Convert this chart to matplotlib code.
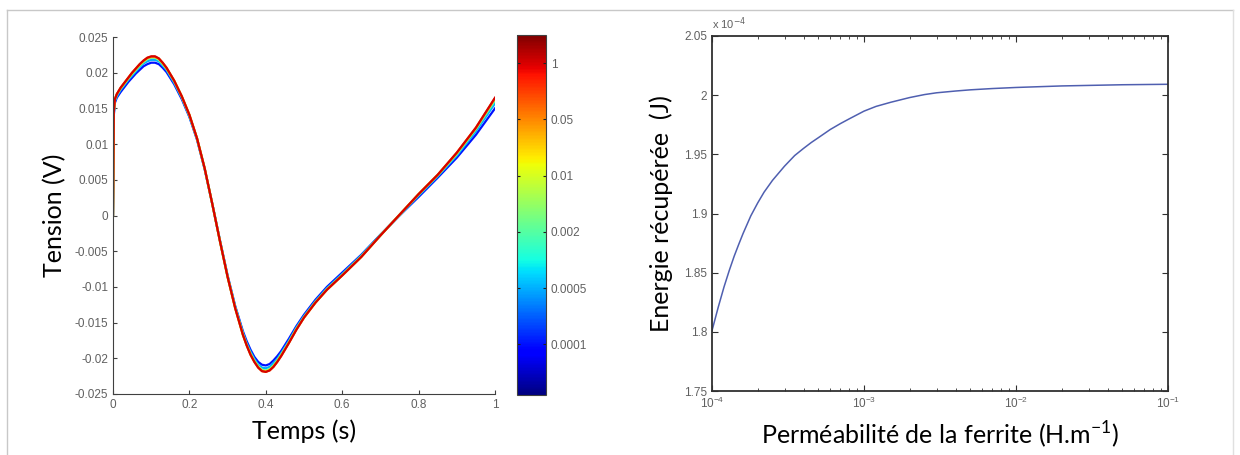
import numpy as np
import matplotlib
matplotlib.use('Agg')
import matplotlib.pyplot as plt
from matplotlib.colors import Normalize
from matplotlib.cm import ScalarMappable
from matplotlib.ticker import FixedLocator, FuncFormatter, LogLocator, NullFormatter
from matplotlib.lines import Line2D

# ---- left plot : tension vs time, one curve per ferrite permeability
t = [0, 0.002, 0.005, 0.01, 0.02, 0.03, 0.04, 0.05, 0.06, 0.07, 0.08, 0.09, 0.10,
     0.11, 0.12, 0.13, 0.14, 0.16, 0.18, 0.20, 0.22, 0.24, 0.26, 0.28, 0.30, 0.32,
     0.34, 0.35, 0.36, 0.37, 0.38, 0.39, 0.40, 0.41, 0.42, 0.43, 0.44, 0.46, 0.48,
     0.50, 0.53, 0.56, 0.60, 0.65, 0.70, 0.75, 0.80, 0.85, 0.90, 0.95, 1.00]

v_1e4 = [0, .0140, .0158, .0165, .0173, .0180, .0187, .0193, .0199, .0204, .0209, .0212, .0214,
         .0214, .0212, .0207, .0201, .0184, .0163, .0138, .0106, .0065, .0016, -.0035, -.0084, -.0127,
         -.0162, -.0176, -.0188, -.0198, -.0205, -.0209, -.0210, -.0208, -.0203, -.0197, -.0190, -.0173, -.0155,
         -.0139, -.0118, -.0100, -.0080, -.0055, -.0027, .0000, .0026, .0053, .0081, .0113, .0150]
v_5e4 = [0, .0142, .0160, .0167, .0176, .0183, .0190, .0196, .0202, .0208, .0213, .0216, .0218,
         .0218, .0216, .0210, .0204, .0186, .0165, .0139, .0107, .0065, .0016, -.0035, -.0085, -.0128,
         -.0164, -.0179, -.0191, -.0201, -.0209, -.0213, -.0214, -.0212, -.0207, -.0201, -.0193, -.0176, -.0157,
         -.0141, -.0120, -.0102, -.0082, -.0056, -.0027, .0000, .0028, .0055, .0084, .0118, .0157]
v_2e3 = [0, .0144, .0162, .0169, .0178, .0185, .0192, .0198, .0204, .0210, .0215, .0219, .0221,
         .0221, .0218, .0212, .0206, .0188, .0166, .0140, .0108, .0066, .0016, -.0036, -.0086, -.0129,
         -.0166, -.0181, -.0193, -.0203, -.0211, -.0216, -.0217, -.0215, -.0210, -.0203, -.0195, -.0178, -.0159,
         -.0142, -.0121, -.0103, -.0083, -.0057, -.0028, .0001, .0029, .0056, .0086, .0121, .0161]
v_1e2 = [0, .0145, .0163, .0170, .0178, .0185, .0192, .0199, .0205, .0211, .0216, .0220, .0222,
         .0222, .0219, .0213, .0206, .0189, .0167, .0141, .0108, .0066, .0016, -.0036, -.0086, -.0130,
         -.0167, -.0182, -.0194, -.0204, -.0212, -.0217, -.0218, -.0216, -.0211, -.0204, -.0196, -.0178, -.0159,
         -.0143, -.0122, -.0104, -.0084, -.0058, -.0028, .0001, .0030, .0057, .0087, .0122, .0164]
v_5e2 = [0, .0145, .0163, .0170, .0179, .0186, .0193, .0200, .0206, .0212, .0217, .0221, .0222,
         .0222, .0220, .0214, .0207, .0189, .0167, .0141, .0108, .0066, .0016, -.0036, -.0086, -.0130,
         -.0167, -.0182, -.0195, -.0205, -.0213, -.0218, -.0219, -.0217, -.0212, -.0205, -.0197, -.0179, -.0160,
         -.0143, -.0122, -.0104, -.0084, -.0058, -.0028, .0001, .0030, .0057, .0088, .0123, .0164]
v_1 = [0, .0145, .0163, .0170, .0179, .0186, .0193, .0200, .0206, .0212, .0217, .0221, .0223,
       .0223, .0220, .0214, .0207, .0189, .0167, .0141, .0108, .0066, .0016, -.0036, -.0086, -.0130,
       -.0167, -.0182, -.0195, -.0205, -.0213, -.0218, -.0219, -.0217, -.0212, -.0205, -.0197, -.0179, -.0160,
       -.0143, -.0122, -.0104, -.0084, -.0058, -.0028, .0001, .0030, .0057, .0088, .0123, .0165]

curves = [v_1e4, v_5e4, v_2e3, v_1e2, v_5e2, v_1]
cbar_labels = ['0.0001', '0.0005', '0.002', '0.01', '0.05', '1']

# ---- right plot : recovered energy vs permeability
mu = [1e-4, 1.1e-4, 1.2e-4, 1.3e-4, 1.4e-4, 1.5e-4, 1.6e-4, 1.8e-4, 2e-4, 2.2e-4, 2.5e-4,
      3e-4, 3.5e-4, 4e-4, 4.5e-4, 5e-4, 6e-4, 7e-4, 8e-4, 1e-3, 1.2e-3, 1.5e-3, 2e-3,
      2.5e-3, 3e-3, 4e-3, 5e-3, 7e-3, 1e-2, 2e-2, 5e-2, 1e-1]
energy = [1.801e-4, 1.821e-4, 1.838e-4, 1.852e-4, 1.864e-4, 1.874e-4, 1.883e-4, 1.898e-4,
          1.909e-4, 1.918e-4, 1.928e-4, 1.940e-4, 1.949e-4, 1.955e-4, 1.960e-4, 1.964e-4,
          1.971e-4, 1.976e-4, 1.980e-4, 1.9865e-4, 1.9905e-4, 1.994e-4, 1.998e-4, 2.0005e-4,
          2.002e-4, 2.0035e-4, 2.0045e-4, 2.0056e-4, 2.0065e-4, 2.0078e-4, 2.0088e-4, 2.0092e-4]

tick_col = '#606060'
label_font = ['Lato', 'DejaVu Sans']
plt.rcParams['font.family'] = ['Liberation Sans', 'DejaVu Sans']

fig = plt.figure(figsize=(12.4, 4.55), dpi=100)

# light frame of the screenshot
fig.add_artist(Line2D([7/1240, 1233/1240], [1 - 10/455, 1 - 10/455], color='#c8c8c8', lw=1))
fig.add_artist(Line2D([7/1240, 7/1240], [0, 1 - 10/455], color='#c8c8c8', lw=1))
fig.add_artist(Line2D([1233/1240, 1233/1240], [0, 1 - 10/455], color='#e0e0e0', lw=1))

ax1 = fig.add_axes([113/1240, 61/455, 382/1240, 357/455])
cax = fig.add_axes([517/1240, 60/455, 29/1240, 360/455])
ax2 = fig.add_axes([712/1240, 64/455, 456/1240, 355/455])

norm = Normalize(vmin=0.1, vmax=6.5)
cmap = plt.get_cmap('jet')

for i, v in enumerate(curves):
    ax1.plot(t, v, '-', color=cmap(norm(i + 1)), lw=1.6, solid_joinstyle='round')

ax1.set_xlim(0, 1)
ax1.set_ylim(-0.025, 0.025)
ax1.set_xticks(np.arange(0, 1.01, 0.2))
ax1.set_yticks(np.arange(-0.025, 0.0251, 0.005))
ax1.xaxis.set_major_formatter(FuncFormatter(lambda x, p: '%g' % round(x, 3)))
ax1.yaxis.set_major_formatter(FuncFormatter(lambda x, p: '%g' % round(x, 4)))
ax1.spines['top'].set_visible(False)
ax1.spines['right'].set_visible(False)
for s in ['left', 'bottom']:
    ax1.spines[s].set_color('#404040')
ax1.tick_params(direction='in', length=3, labelsize=8.5, labelcolor=tick_col, color='#404040')
ax1.set_xlabel('Temps (s)', family=label_font, fontsize=18, labelpad=6)
ax1.set_ylabel('Tension (V)', family=label_font, fontsize=18, labelpad=6)

cb = fig.colorbar(ScalarMappable(norm=norm, cmap=cmap), cax=cax, ticks=[1, 2, 3, 4, 5, 6])
cb.set_ticklabels(cbar_labels)
cb.outline.set_edgecolor('#404040')
cax.tick_params(direction='in', length=2, labelsize=8.5, labelcolor=tick_col,
                left=True, right=True, color='#202020')

# energy shown in units of 1e-4 J, with the multiplier written above the axis
ax2.semilogx(mu, np.array(energy) / 1e-4, '-', color='#4f5fb0', lw=1.1)
ax2.set_xlim(1e-4, 1e-1)
ax2.set_ylim(1.75, 2.05)
ax2.yaxis.set_major_locator(FixedLocator([1.75, 1.8, 1.85, 1.9, 1.95, 2.0, 2.05]))
ax2.yaxis.set_major_formatter(FuncFormatter(lambda x, p: '%g' % round(x, 2)))
ax2.xaxis.set_major_locator(LogLocator(base=10, numticks=10))
ax2.xaxis.set_minor_locator(LogLocator(base=10, subs=np.arange(2, 10), numticks=10))
ax2.xaxis.set_minor_formatter(NullFormatter())
for s in ax2.spines.values():
    s.set_color('#303030')
    s.set_linewidth(1.3)
ax2.tick_params(which='both', direction='in', top=True, right=True,
                labelsize=8.5, labelcolor=tick_col, color='#303030')
ax2.tick_params(which='major', length=4)
ax2.tick_params(which='minor', length=2)
ax2.text(0.0, 1.012, r'x 10$^{-4}$', transform=ax2.transAxes, fontsize=8, color=tick_col,
         ha='left', va='bottom')
ax2.set_xlabel('Perméabilité de la ferrite (H.m$^{\\mathregular{-1}}$)', family=label_font,
               fontsize=18, labelpad=6)
ax2.set_ylabel('Energie récupérée  (J)', family=label_font, fontsize=18, labelpad=8)

fig.savefig('out.png', dpi=100)
